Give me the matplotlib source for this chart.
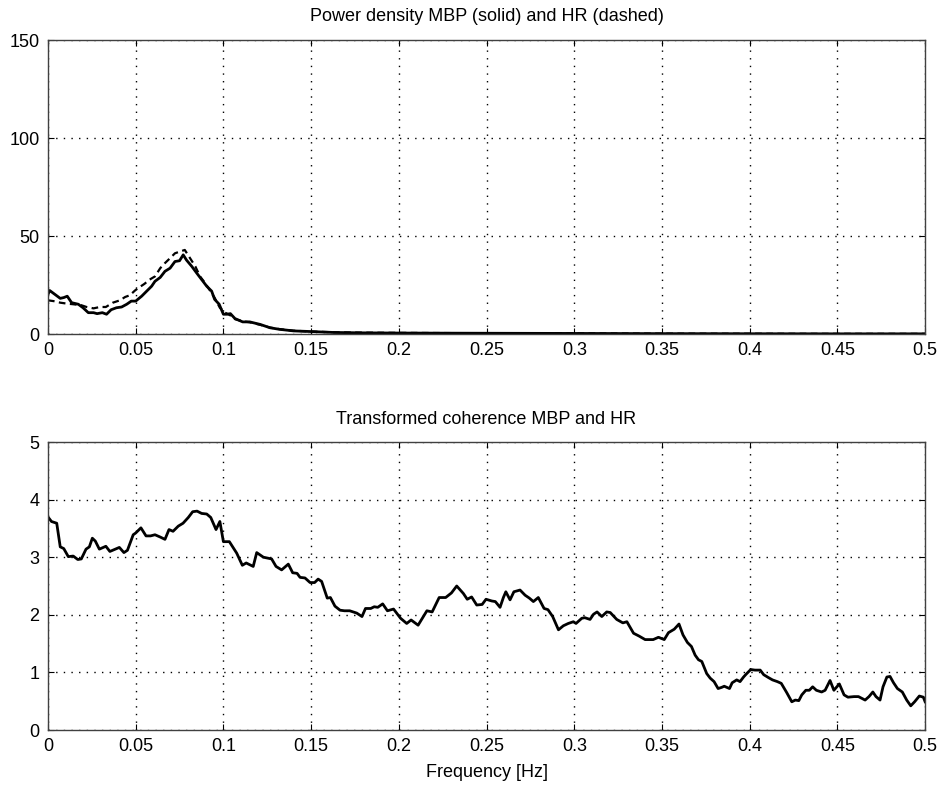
import matplotlib
matplotlib.use('Agg')
import matplotlib.pyplot as plt

# power density, solid = MBP
mbp_f = [0, 0.001, 0.004, 0.007, 0.009, 0.011, 0.0135, 0.0173, 0.020, 0.023, 0.026, 0.028, 0.031,
         0.0334, 0.036, 0.039, 0.042, 0.0449, 0.0475, 0.050, 0.0534, 0.0563, 0.0591, 0.061, 0.064,
         0.0667, 0.0696, 0.0724, 0.075, 0.0771, 0.079, 0.082, 0.0848, 0.0876, 0.0905, 0.0933, 0.095,
         0.0976, 0.100, 0.102, 0.104, 0.1066, 0.111, 0.115, 0.121, 0.1266, 0.132, 0.14, 0.149, 0.163,
         0.18, 0.2, 0.25, 0.3, 0.35, 0.4, 0.45, 0.5]
mbp_p = [20.2, 22.2, 20.2, 18.2, 18.6, 19.3, 16.0, 15.2, 13.4, 10.9, 10.9, 10.4, 10.9,
         10.1, 12.4, 13.4, 13.8, 15.2, 16.8, 16.8, 19.3, 21.9, 24.4, 26.9, 28.9,
         32.0, 33.6, 37.0, 37.4, 40.4, 37.7, 34.5, 31.1, 27.8, 24.4, 21.9, 17.7,
         15.2, 10.1, 10.1, 10.4, 7.9, 6.2, 6.2, 4.9, 3.2, 2.4, 1.6, 1.3, 0.8,
         0.6, 0.5, 0.4, 0.3, 0.2, 0.15, 0.1, 0.1]

# power density, dashed = HR
hr_f = [0, 0.004, 0.007, 0.011, 0.0144, 0.019, 0.022, 0.026, 0.0296, 0.033, 0.037, 0.041, 0.044,
        0.0467, 0.0496, 0.052, 0.055, 0.058, 0.061, 0.064, 0.0667, 0.0696, 0.0724, 0.0753, 0.078,
        0.081, 0.084, 0.0867, 0.0895, 0.092, 0.095, 0.098, 0.101, 0.104, 0.1066, 0.111, 0.115,
        0.121, 0.1266, 0.132, 0.14, 0.149, 0.163, 0.18, 0.2, 0.25, 0.3, 0.35, 0.4, 0.45, 0.5]
hr_p = [17.2, 16.7, 16.0, 15.5, 15.2, 14.7, 13.8, 13.1, 13.8, 13.8, 16.0, 17.2, 18.9,
        19.8, 22.2, 23.8, 25.6, 27.8, 29.4, 33.6, 36.2, 38.7, 41.2, 42.1, 42.9,
        38.7, 34.5, 29.4, 26.1, 22.7, 18.5, 13.4, 10.9, 9.5, 7.6, 6.5, 6.0,
        4.7, 3.3, 2.5, 1.7, 1.3, 0.9, 0.7, 0.6, 0.4, 0.3, 0.2, 0.15, 0.1, 0.1]

# transformed coherence
coh_f = [0, 0.002, 0.005, 0.007, 0.009, 0.0116, 0.0144, 0.017, 0.019, 0.0217, 0.0236, 0.0253,
         0.027, 0.0293, 0.033, 0.0353, 0.0407, 0.0433, 0.0453, 0.0486, 0.050, 0.053, 0.0559,
         0.0585, 0.061, 0.064, 0.0667, 0.069, 0.0713, 0.0743, 0.077, 0.080, 0.0825, 0.085,
         0.0876, 0.0905, 0.0928, 0.0958, 0.098, 0.100, 0.1034, 0.1076, 0.1108, 0.113, 0.117,
         0.119, 0.1228, 0.1275, 0.130, 0.1332, 0.137, 0.1395, 0.142, 0.1437, 0.1465, 0.1494,
         0.152, 0.154, 0.156, 0.1592, 0.161, 0.1636, 0.1665, 0.169, 0.172, 0.176, 0.179, 0.181,
         0.184, 0.186, 0.188, 0.1908, 0.1935, 0.197, 0.201, 0.2045, 0.207, 0.211, 0.214, 0.216,
         0.219, 0.223, 0.2267, 0.230, 0.233, 0.2368, 0.239, 0.2415, 0.2444, 0.2475, 0.2497,
         0.253, 0.255, 0.2577, 0.2596, 0.261, 0.2634, 0.2656, 0.2691, 0.272, 0.2744, 0.2767,
         0.2795, 0.2828, 0.285, 0.2877, 0.291, 0.2938, 0.2966, 0.2995, 0.301, 0.3043, 0.306,
         0.309, 0.311, 0.313, 0.3157, 0.3185, 0.3205, 0.3242, 0.3277, 0.330, 0.3338, 0.337,
         0.3404, 0.345, 0.348, 0.3513, 0.3537, 0.357, 0.3597, 0.362, 0.3645, 0.3668, 0.3689,
         0.3708, 0.3727, 0.3755, 0.3775, 0.3797, 0.382, 0.384, 0.3855, 0.3885, 0.390, 0.3926,
         0.3945, 0.3965, 0.398, 0.4006, 0.403, 0.406, 0.408, 0.4107, 0.413, 0.4158, 0.418,
         0.4211, 0.424, 0.426, 0.428, 0.4297, 0.432, 0.434, 0.4359, 0.438, 0.441, 0.443, 0.4458,
         0.448, 0.4511, 0.4538, 0.456, 0.4595, 0.462, 0.4658, 0.468, 0.4702, 0.472, 0.4743,
         0.476, 0.4782, 0.480, 0.482, 0.4842, 0.487, 0.4895, 0.4918, 0.494, 0.4967, 0.499, 0.500]
coh_v = [3.70, 3.62, 3.59, 3.18, 3.15, 3.01, 3.02, 2.96, 2.97, 3.14, 3.18, 3.33,
         3.28, 3.14, 3.19, 3.10, 3.17, 3.08, 3.12, 3.39, 3.42, 3.51, 3.37,
         3.37, 3.39, 3.35, 3.31, 3.48, 3.45, 3.54, 3.59, 3.69, 3.79, 3.80,
         3.76, 3.75, 3.69, 3.48, 3.62, 3.27, 3.27, 3.07, 2.86, 2.90, 2.84,
         3.08, 3.00, 2.97, 2.84, 2.78, 2.88, 2.73, 2.72, 2.65, 2.64, 2.56,
         2.56, 2.62, 2.58, 2.29, 2.30, 2.15, 2.08, 2.07, 2.07, 2.03, 1.97, 2.11,
         2.11, 2.14, 2.13, 2.19, 2.07, 2.10, 1.94, 1.85, 1.91, 1.82, 1.97, 2.07,
         2.05, 2.30, 2.30, 2.38, 2.50, 2.37, 2.27, 2.31, 2.17, 2.18, 2.27,
         2.24, 2.23, 2.13, 2.30, 2.40, 2.26, 2.40, 2.43, 2.34, 2.29, 2.23,
         2.30, 2.11, 2.09, 1.97, 1.74, 1.81, 1.85, 1.88, 1.85, 1.94, 1.95,
         1.92, 2.01, 2.05, 1.97, 2.05, 2.04, 1.92, 1.86, 1.88, 1.68, 1.63,
         1.57, 1.57, 1.61, 1.57, 1.69, 1.75, 1.84, 1.65, 1.52, 1.45, 1.30,
         1.22, 1.19, 0.98, 0.90, 0.84, 0.72, 0.74, 0.76, 0.72, 0.82, 0.87,
         0.84, 0.92, 0.97, 1.05, 1.04, 1.04, 0.96, 0.91, 0.87, 0.84, 0.81,
         0.65, 0.49, 0.52, 0.51, 0.61, 0.69, 0.69, 0.75, 0.69, 0.66, 0.69, 0.86,
         0.69, 0.80, 0.61, 0.57, 0.58, 0.58, 0.52, 0.58, 0.66, 0.58, 0.52,
         0.75, 0.92, 0.93, 0.82, 0.72, 0.66, 0.52, 0.42, 0.49, 0.59, 0.57, 0.49]

x_ticks = [0, 0.05, 0.1, 0.15, 0.2, 0.25, 0.3, 0.35, 0.4, 0.45, 0.5]
x_labels = ['0', '0.05', '0.1', '0.15', '0.2', '0.25', '0.3', '0.35', '0.4', '0.45', '0.5']

plt.rcParams['font.family'] = ['Liberation Sans', 'DejaVu Sans']
plt.rcParams['font.size'] = 13


def style_axes(ax):
    # matlab look: boxed axes, inward ticks on all sides, dotted grid
    for s in ax.spines.values():
        s.set_color('#404040')
        s.set_linewidth(1.0)
    ax.tick_params(direction='in', length=4, width=0.8, top=True, right=True,
                   pad=6, colors='black', labelsize=13)
    ax.grid(True, color='black', linestyle=(0, (1, 4.5)), linewidth=1.0)
    ax.set_axisbelow(True)
    ax.set_xlim(0, 0.5)
    ax.set_xticks(x_ticks)
    ax.set_xticklabels(x_labels)


fig = plt.figure(figsize=(9.44, 7.91), dpi=100)
ax1 = fig.add_axes([0.0508, 0.5777, 0.9292, 0.3717])
ax2 = fig.add_axes([0.0508, 0.0771, 0.9292, 0.3641])

style_axes(ax1)
ax1.plot(mbp_f, mbp_p, color='black', linewidth=2.0, solid_joinstyle='round')
ax1.plot(hr_f, hr_p, color='black', linewidth=1.6, linestyle=(0, (3, 2)))
ax1.set_ylim(0, 150)
ax1.set_yticks([0, 50, 100, 150])
ax1.set_title('Power density MBP (solid) and HR (dashed)', fontsize=13, pad=14)

style_axes(ax2)
ax2.plot(coh_f, coh_v, color='black', linewidth=2.0, solid_joinstyle='round')
ax2.set_ylim(0, 5)
ax2.set_yticks([0, 1, 2, 3, 4, 5])
ax2.set_title('Transformed coherence MBP and HR', fontsize=13, pad=13)
ax2.set_xlabel('Frequency [Hz]', fontsize=13, labelpad=6)

fig.savefig('out.png', dpi=100)
